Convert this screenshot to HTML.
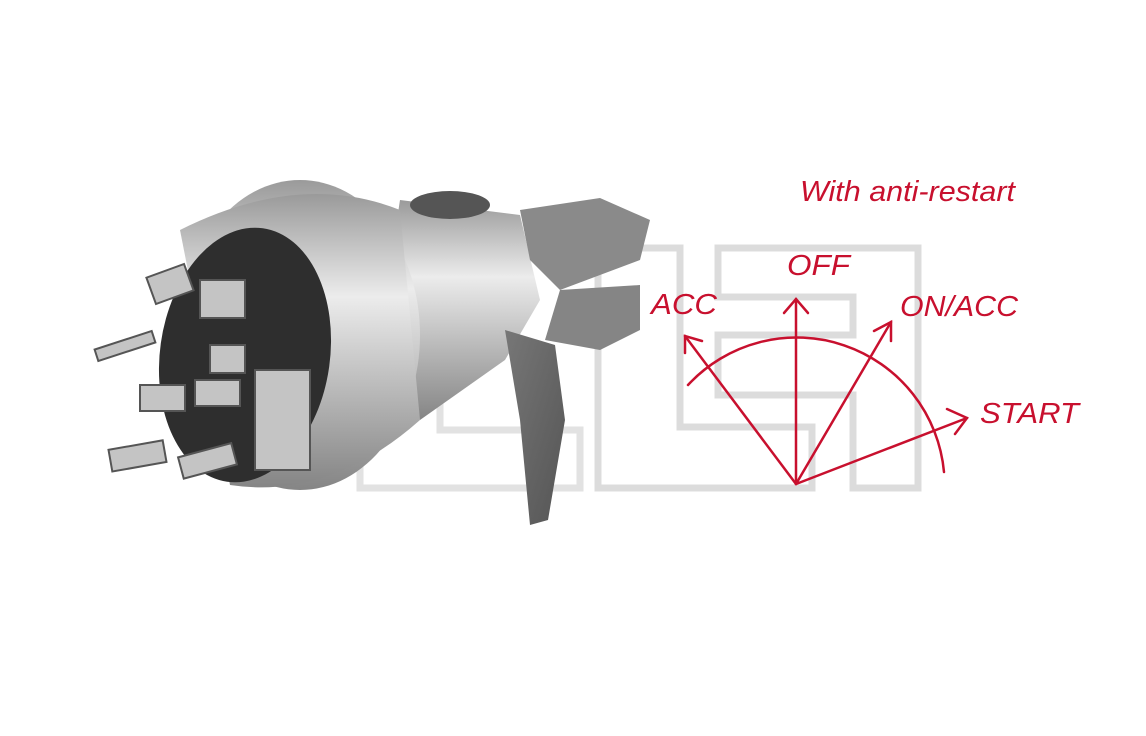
<!DOCTYPE html>
<html><head><meta charset="utf-8"><style>
html,body{margin:0;padding:0;background:#fff;}
svg{display:block}
text{font-family:"Liberation Sans",sans-serif;font-style:italic;fill:#c8102e}
</style></head><body>
<svg width="1146" height="736" viewBox="0 0 1146 736" xmlns="http://www.w3.org/2000/svg">
<defs>
<linearGradient id="body" x1="0" y1="0" x2="0" y2="1">
<stop offset="0" stop-color="#9a9a9a"/><stop offset="0.35" stop-color="#ececec"/><stop offset="0.6" stop-color="#c4c4c4"/><stop offset="1" stop-color="#858585"/>
</linearGradient>
<linearGradient id="key" x1="0" y1="0" x2="1" y2="1">
<stop offset="0" stop-color="#777"/><stop offset="1" stop-color="#555"/>
</linearGradient>
</defs>
<g fill="none" stroke="#dcdcdc" stroke-width="7">
<path d="M598 248 L680 248 L680 427 L812 427 L812 488 L598 488 Z"/>
<path d="M718 248 L918 248 L918 488 L853 488 L853 395 L718 395 L718 335 L853 335 L853 297 L718 297 Z"/>
<path d="M360 248 L440 248 L440 430 L580 430 L580 488 L360 488 Z" stroke="#e2e2e2"/>
</g>
<path d="M400 200 L520 215 L540 300 L505 360 L420 420 L380 330 Z" fill="url(#body)"/>
<ellipse cx="450" cy="205" rx="40" ry="14" fill="#555"/>
<path d="M520 210 L600 198 L650 220 L640 260 L560 290 L530 260 Z" fill="#8a8a8a"/>
<path d="M560 290 L640 285 L640 330 L600 350 L545 340 Z" fill="#858585"/>
<path d="M505 330 L555 345 L565 420 L548 520 L530 525 L520 420 Z" fill="url(#key)"/>
<ellipse cx="300" cy="335" rx="120" ry="155" fill="url(#body)"/>
<path d="M180 230 Q300 170 400 210 L420 420 Q330 500 230 485 Z" fill="url(#body)"/>
<ellipse cx="245" cy="355" rx="85" ry="128" fill="#2e2e2e" transform="rotate(8 245 355)"/>
<g fill="#c4c4c4" stroke="#555" stroke-width="2">
<rect x="150" y="270" width="40" height="28" transform="rotate(-20 170 284)"/>
<rect x="200" y="280" width="45" height="38"/>
<rect x="95" y="340" width="60" height="12" transform="rotate(-18 125 346)"/>
<rect x="140" y="385" width="45" height="26"/>
<rect x="195" y="380" width="45" height="26"/>
<rect x="110" y="445" width="55" height="22" transform="rotate(-10 137 456)"/>
<rect x="180" y="450" width="55" height="22" transform="rotate(-15 207 461)"/>
<rect x="255" y="370" width="55" height="100"/>
<rect x="210" y="345" width="35" height="28"/>
</g>
<text x="800" y="201" font-size="29" textLength="215" lengthAdjust="spacingAndGlyphs">With anti-restart</text>
<text x="787" y="275" font-size="29" textLength="63" lengthAdjust="spacingAndGlyphs">OFF</text>
<text x="651" y="314" font-size="29" textLength="66" lengthAdjust="spacingAndGlyphs">ACC</text>
<text x="900" y="316" font-size="29" textLength="118" lengthAdjust="spacingAndGlyphs">ON/ACC</text>
<text x="980" y="423" font-size="29" textLength="99" lengthAdjust="spacingAndGlyphs">START</text>
<g stroke="#c8102e" stroke-width="2.5" fill="none" stroke-linecap="round">
<path d="M688 385 A148 148 0 0 1 944 472"/>
<line x1="796" y1="484" x2="796" y2="299"/><path d="M784 313 L796 299 L808 313"/>
<line x1="796" y1="484" x2="685" y2="336"/><path d="M685 353 L685 336 L702 341"/>
<line x1="796" y1="484" x2="891" y2="322"/><path d="M874 331 L891 322 L891 341"/>
<line x1="796" y1="484" x2="967" y2="418"/><path d="M947 409 L967 418 L955 434"/>
</g>
</svg>
</body></html>
